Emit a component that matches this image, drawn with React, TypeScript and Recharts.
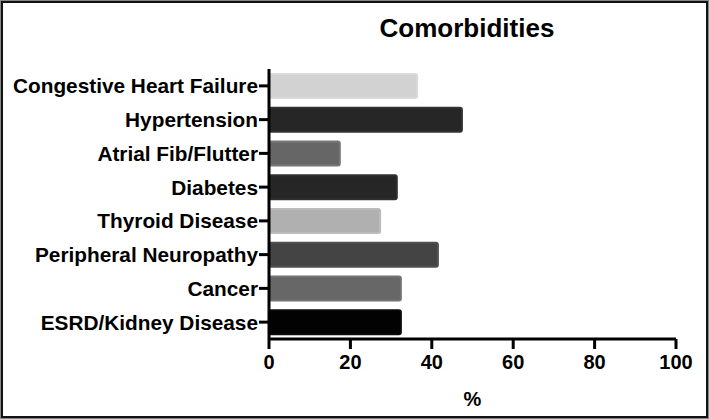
import React from 'react';
import { BarChart, Bar, XAxis, YAxis, Cell } from 'recharts';

const categories = [
  'Congestive Heart Failure',
  'Hypertension',
  'Atrial Fib/Flutter',
  'Diabetes',
  'Thyroid Disease',
  'Peripheral Neuropathy',
  'Cancer',
  'ESRD/Kidney Disease',
];
const values = [36.4, 47.4, 17.4, 31.4, 27.3, 41.5, 32.4, 32.4];
const fills = ['#d2d2d2', '#262626', '#666666', '#262626', '#b0b0b0', '#444444', '#676767', '#020202'];
const strokes = ['#dadada', '#333333', '#777777', '#303030', '#bcbcbc', '#505050', '#737373', '#0a0a0a'];
const xTicks = [0, 20, 40, 60, 80, 100];

const data = categories.map((name, i) => ({ name, value: values[i] }));

const FONT = '"Liberation Sans", Arial, Helvetica, sans-serif';

export default function App() {
  return (
    <div style={{ position: 'relative', width: 709, height: 419, background: '#fff', fontFamily: FONT }}>
      <style>{`body{margin:0}`}</style>
      <div
        style={{
          position: 'absolute',
          left: 0,
          top: 0,
          width: 709,
          height: 419,
          boxSizing: 'border-box',
          border: '3px solid #111',
          outline: '1px solid #888',
          outlineOffset: '-1px',
          pointerEvents: 'none',
          zIndex: 2,
        }}
      />
      <div
        style={{
          position: 'absolute',
          left: 367,
          width: 200,
          top: 15,
          textAlign: 'center',
          fontSize: 26,
          lineHeight: '26px',
          fontWeight: 'bold',
          color: '#000',
        }}
      >
        Comorbidities
      </div>
      <BarChart
        width={709}
        height={419}
        data={data}
        layout="vertical"
        margin={{ top: 69, right: 33, bottom: 0, left: 0 }}
        barCategoryGap={9}
      >
        <XAxis
          type="number"
          domain={[0, 100]}
          ticks={xTicks}
          interval={0}
          height={80}
          axisLine={{ stroke: '#000', strokeWidth: 3 }}
          tickLine={{ stroke: '#000', strokeWidth: 3 }}
          tickSize={10}
          tickMargin={6}
          tick={{ fill: '#000', fontSize: 20, fontWeight: 'bold', fontFamily: FONT }}
          label={{
            value: '%',
            position: 'insideBottom',
            offset: 13,
            fill: '#000',
            fontSize: 20,
            fontWeight: 'bold',
            fontFamily: FONT,
          }}
        />
        <YAxis
          type="category"
          dataKey="name"
          width={269}
          interval={0}
          axisLine={{ stroke: '#000', strokeWidth: 3 }}
          tickLine={{ stroke: '#000', strokeWidth: 3 }}
          tickSize={10}
          tickMargin={1}
          tick={{ fill: '#000', fontSize: 20.8, fontWeight: 'bold', fontFamily: FONT }}
        />
        <Bar dataKey="value" isAnimationActive={false} barSize={24} radius={2}>
          {data.map((d, i) => (
            <Cell key={d.name} fill={fills[i]} stroke={strokes[i]} strokeWidth={2} />
          ))}
        </Bar>
      </BarChart>
    </div>
  );
}
